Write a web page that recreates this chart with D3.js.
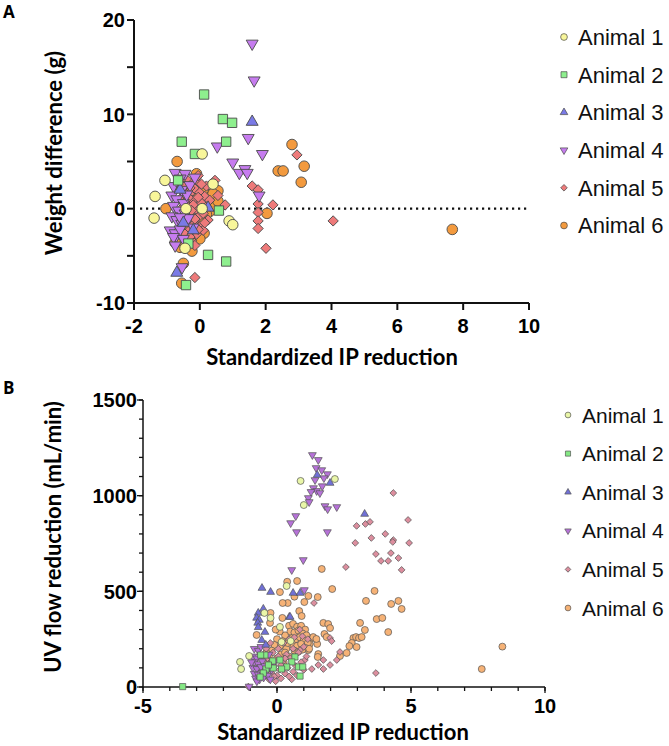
<!DOCTYPE html>
<html>
<head>
<meta charset="utf-8">
<script src="https://cdn.jsdelivr.net/npm/d3@7"></script>
<style>
  body { margin: 0; background: #fff; }
  svg { display: block; }
</style>
</head>
<body>
<div id="chart"></div>
<script>
// ---- data ----
var animalNames = ["Animal 1", "Animal 2", "Animal 3", "Animal 4", "Animal 5", "Animal 6"];

var xTicksA = [-2, 0, 2, 4, 6, 8, 10];
var yTicksA = [-10, 0, 10, 20];
var yMinorA = [-5, 5, 15];
var xTicksB = [-5, 0, 5, 10];
var yTicksB = [0, 500, 1000, 1500];

// panel A: standardized IP reduction vs weight difference (g)
var weightAnimal1 = [[-1.36,1.3],[-1.06,3.0],[-1.39,-1.0],[0.07,5.8],[0.4,2.6],[-0.42,0.0],[0.07,0.0],[0.89,-1.3],[1.0,-1.7],[-0.45,-4.2]];
var weightAnimal2 = [[0.13,12.1],[0.7,9.5],[0.98,9.1],[-0.55,7.1],[0.8,7.1],[-0.15,5.8],[-0.66,3.0],[0.58,-0.2],[-0.35,-3.7],[0.25,-4.9],[0.8,-5.6],[-0.42,-8.1]];
var weightAnimal3 = [[1.59,9.2],[-0.7,-6.8],[0.25,0.1],[-0.2,-2.3],[-0.6,2.0],[-0.5,-1.5]];
var weightAnimal4 = [[1.59,17.5],[1.65,13.6],[1.47,7.5],[0.53,6.6],[1.9,5.8],[1.0,4.9],[1.2,3.8],[1.37,4.2],[1.44,3.8],[1.8,1.4],
  [-0.72,-2.9],[-0.54,-6.2],[-0.75,3.8],[-0.45,3.7],[-0.6,3.2],[-0.8,2.4],[-0.55,2.0],[-0.85,1.4],[-0.7,1.0],[-0.5,0.6],
  [-0.8,0.3],[-0.65,-0.2],[-0.45,-0.5],[-0.85,-0.8],[-0.7,-1.2],[-0.55,-1.6],[-0.9,-2.3],[-0.75,-2.6],[-0.6,-2.2],[-0.8,-3.0],
  [-0.75,-3.9],[-0.5,-3.2],[-0.35,-1.0],[-0.3,2.5],[-0.6,-0.9],[-0.4,1.5],[-0.2,-2.0],[-0.15,3.3]];
var weightAnimal5 = [[2.95,5.7],[4.05,-1.3],[1.59,2.4],[1.77,2.0],[1.77,0.5],[2.22,0.4],[0.77,0.4],[1.77,-0.4],[1.77,-1.3],[1.77,-2.1],
  [2.01,-4.2],[-0.15,-7.3],[0.46,3.0],[0.55,1.4],
  [-0.55,2.8],[-0.4,3.1],[-0.25,2.6],[-0.1,2.9],[-0.5,1.9],[-0.3,1.6],[-0.15,2.1],[0.0,1.7],[0.15,1.3],[-0.6,1.0],
  [-0.45,0.7],[-0.2,0.9],[0.05,0.6],[-0.35,0.2],[-0.1,-0.1],[0.2,0.2],[-0.55,-0.4],[-0.3,-0.6],[-0.05,-0.9],[0.1,-0.5],
  [-0.45,-1.4],[-0.2,-1.5],[0.0,-1.9],[-0.6,-2.0],[-0.35,-2.4],[-0.1,-2.7],[-0.5,-3.0],[-0.25,-3.4],[-0.4,-4.0],[-0.15,-3.9],
  [0.25,-1.2],[0.3,0.9],[-0.65,2.3],[-0.05,3.5],[0.2,2.4],[-0.3,-1.0],[-0.45,-2.7],[-0.2,0.4],[-0.5,0.2],[0.1,-2.3],[0.15,-1.5],
  [-0.35,1.2],[-0.25,-0.2],[-0.05,1.2],[-0.4,-0.9],[-0.15,-1.1],[-0.3,2.2],[-0.05,-2.2],[-0.3,-3.0],[-0.45,2.4],[0.05,2.6]];
var weightAnimal6 = [[2.8,6.8],[2.38,4.0],[2.53,4.0],[3.17,4.5],[3.08,2.8],[2.04,-0.5],[-0.69,5.0],[-1.03,0.0],[-0.08,2.4],[0.55,1.9],
  [0.37,1.2],[0.13,-2.6],[-0.24,-4.5],[-0.5,-5.8],[-0.55,-7.9],[-0.6,-4.1],[-0.1,3.7],[7.67,-2.2],
  [-0.75,-3.6],[0.25,1.5],[0.35,0.9],[0.3,-0.3],[-0.1,1.3],[0.0,-3.2],[-0.2,-2.8],[0.2,-0.6],[0.4,1.6],[-0.5,-1.8],
  [0.45,0.3],[0.1,2.0],[-0.35,2.4],[0.55,0.8],[0.05,-1.4]];

// panel B: standardized IP reduction vs UV flow reduction (mL/min)
var flowAnimal1 = [[0.88,1077],[2.16,1087],[1.0,951],[0.36,528],[-0.47,387],[-0.24,361],[-1.38,131],[-1.34,94],[0.11,314],[0.17,235],[0.51,240],[-1.04,162]];
var flowAnimal2 = [[-3.52,2],[0.86,57],[0.8,105],[0.96,105],[0.67,157],[0.55,131],[0.36,105],[0.17,94],[-0.16,136],[0.11,141],
  [-0.41,94],[-0.51,73],[-0.63,52],[-0.45,167],[-0.61,167],[-0.14,99],[-0.32,115]];
var flowAnimal3 = [[3.27,904],[-0.56,517],[-0.24,496],[0.6,491],[0.86,491],[0.46,366],[1.98,1066],[1.5,1108],
  [-0.7,387],[-0.76,361],[-0.66,350],[-0.51,408],[-0.72,335],[-0.7,312],[-0.45,287],[-0.57,245],[-0.42,220],[0.49,366]];
var flowAnimal4 = [[1.32,1213],[1.54,1187],[1.46,1145],[1.67,1134],[1.88,1113],[1.75,1092],[1.42,1082],[1.69,1050],[1.36,1040],[1.48,1025],
  [1.27,1020],[1.6,1014],[1.17,988],[1.2,967],[1.79,946],[1.89,930],[2.23,941],[0.7,894],[0.51,857],[0.73,810],
  [1.88,810],[0.98,664],[0.55,612],[1.02,507],
  [-0.85,200],[-0.7,190],[-0.9,160],[-0.75,150],[-0.6,165],[-0.85,130],[-0.7,120],[-0.55,135],[-0.9,100],[-0.75,95],
  [-0.6,105],[-0.45,110],[-0.85,70],[-0.7,65],[-0.55,75],[-0.4,80],[-0.8,45],[-0.65,40],[-0.5,50],[-0.35,60],
  [-0.2,90],[-0.1,130],[-0.3,170],[-0.75,30],[-0.95,130],[-0.6,210],[-0.25,40],[-1.04,3]];
var flowAnimal5 = [[4.34,1014],[4.89,873],[4.93,753],[2.97,842],[3.3,852],[3.47,863],[2.92,753],[3.52,779],[4.04,800],[4.34,768],
  [4.32,758],[3.69,695],[3.88,659],[4.15,659],[4.25,700],[4.53,674],[4.65,612],[2.57,627],[1.38,439],[3.69,73],
  [1.3,94],[1.54,115],[1.73,94],[1.73,141],[1.98,115],[1.98,256],[2.04,240],[2.23,141],[2.35,183],[1.04,141],[0.86,193],
  [-0.6,90],[-0.45,60],[-0.3,40],[-0.2,75],[-0.1,110],[0.0,60],[0.1,90],[0.2,130],[0.3,70],[0.4,100],
  [0.5,150],[0.6,80],[0.7,110],[0.8,180],[0.9,130],[1.0,90],[1.1,160],[-0.5,130],[-0.35,150],[-0.15,180],
  [0.05,200],[0.25,230],[0.45,250],[0.65,260],[0.85,300],[1.0,210],[-0.7,40],[-0.05,30],[0.15,45],[0.35,170],
  [-0.4,200],[0.55,40],[1.15,250],[0.95,265],[-0.25,230],[-1.07,2],
  [-0.35,100],[-0.1,55],[0.15,115],[0.3,150],[-0.5,85],[0.05,160],[0.6,200],[0.75,60],[0.45,55],[-0.2,135]];
var flowAnimal6 = [[8.41,211],[7.64,94],[1.67,617],[0.75,554],[2.06,512],[0.11,496],[0.4,439],[1.17,476],[1.52,470],[1.02,444],
  [0.83,397],[0.92,371],[0.2,361],[-0.26,335],[3.64,502],[3.32,450],[4.26,434],[4.53,450],[4.65,408],[3.72,355],
  [3.93,361],[4.15,287],[3.1,335],[3.28,298],[1.73,335],[1.91,329],[1.98,308],[1.77,277],[1.85,261],[1.5,225],
  [1.32,256],[2.85,256],[2.95,261],[3.06,256],[3.16,261],[2.79,230],[2.7,214],[2.97,209],[2.6,178],[2.35,162],
  [1.54,172],[1.52,157],[1.35,261],[1.47,251],[1.22,225],[1.17,193],[-0.76,272],[-0.24,387],[0.21,439],[0.38,550],
  [0.65,472],
  [0.45,320],[0.6,330],[0.75,315],[0.9,320],[1.05,300],[0.5,290],[0.65,285],[0.8,295],[0.95,280],[1.1,270],
  [0.55,255],[0.7,250],[0.85,260],[1.0,245],[1.15,230],[0.6,220],[0.75,215],[0.9,225],[1.05,205],[0.65,190],
  [0.8,185],[0.95,195],[1.2,200],[0.3,270],[0.2,240],[0.1,210],[0.0,250],[-0.1,220],[-0.2,190],[-0.3,160],
  [-0.4,180],[0.15,170],[0.35,200],[0.0,150],[-0.15,130],[0.25,130],[0.45,160],[-0.45,140],[0.1,290],[-0.05,300],
  [0.3,180],[0.4,230]];

var weightSeries = [weightAnimal1, weightAnimal2, weightAnimal3, weightAnimal4, weightAnimal5, weightAnimal6];
var flowSeries = [flowAnimal1, flowAnimal2, flowAnimal3, flowAnimal4, flowAnimal5, flowAnimal6];

var colorsA = ["#f8f69a", "#8eef8e", "#7a7ae6", "#c67cef", "#ee7a7a", "#f39a3e"];
var colorsB = ["#e9f6a8", "#84e884", "#7070d6", "#b672d8", "#dc8e9e", "#f6b276"];

// ---- drawing ----
var svg = d3.select("#chart").append("svg").attr("width", 669).attr("height", 746);

// shape per animal: circle, square, up, down, diamond, circle
function markerPath(i, scale) {
  var s = [1, 1, 0.7, 0.7, 0.6, 1][i] * scale;
  var type = [d3.symbolCircle, d3.symbolSquare, d3.symbolTriangle, d3.symbolTriangle, d3.symbolSquare, d3.symbolCircle][i];
  return d3.symbol().type(type).size(s)();
}
function markerRot(i) {
  return i === 3 ? " rotate(180)" : i === 4 ? " rotate(45)" : "";
}

function drawPanel(cfg) {
  var g = svg.append("g");
  var x = cfg.x, y = cfg.y;

  // axes
  var xAxis = g.append("g").attr("transform", "translate(0," + y.range()[0] + ")");
  xAxis.append("line").attr("x1", x.range()[0] - cfg.axisW / 2).attr("x2", x.range()[1])
    .attr("stroke", "#111").attr("stroke-width", cfg.axisW);
  var yAxis = g.append("g").attr("transform", "translate(" + x.range()[0] + ",0)");
  yAxis.append("line").attr("y1", y.range()[0] + cfg.axisW / 2).attr("y2", y.range()[1])
    .attr("stroke", "#111").attr("stroke-width", cfg.axisW);

  xAxis.selectAll(".minor").data(cfg.xMinor).enter().append("line")
    .attr("x1", d => x(d)).attr("x2", d => x(d)).attr("y1", 0).attr("y2", cfg.minorLen)
    .attr("stroke", "#111").attr("stroke-width", cfg.tickW);
  xAxis.selectAll(".major").data(cfg.xTicks).enter().append("line")
    .attr("x1", d => x(d)).attr("x2", d => x(d)).attr("y1", 0).attr("y2", cfg.majorLen)
    .attr("stroke", "#111").attr("stroke-width", cfg.tickW);
  xAxis.selectAll("text").data(cfg.xTicks).enter().append("text")
    .attr("x", d => x(d)).attr("y", cfg.xLabelY - y.range()[0])
    .attr("text-anchor", "middle")
    .style("font-family", "'Liberation Sans', Arial, sans-serif").style("font-weight", "bold")
    .style("font-size", cfg.tickFont + "px").text(d => d);

  yAxis.selectAll(".minor").data(cfg.yMinor).enter().append("line")
    .attr("y1", d => y(d)).attr("y2", d => y(d)).attr("x1", 0).attr("x2", -cfg.minorLen)
    .attr("stroke", "#111").attr("stroke-width", cfg.tickW);
  yAxis.selectAll(".major").data(cfg.yTicks).enter().append("line")
    .attr("y1", d => y(d)).attr("y2", d => y(d)).attr("x1", 0).attr("x2", -cfg.majorLen)
    .attr("stroke", "#111").attr("stroke-width", cfg.tickW);
  yAxis.selectAll("text").data(cfg.yTicks).enter().append("text")
    .attr("y", d => y(d)).attr("x", -cfg.majorLen - cfg.yPad).attr("dy", "0.36em")
    .attr("text-anchor", "end")
    .style("font-family", "'Liberation Sans', Arial, sans-serif").style("font-weight", "bold")
    .style("font-size", cfg.tickFont + "px").text(d => d);

  if (cfg.zeroLine) {
    g.append("line").attr("x1", x.range()[0] + 6).attr("x2", x.range()[1])
      .attr("y1", y(0)).attr("y2", y(0))
      .attr("stroke", "#111").attr("stroke-width", 2.2).attr("stroke-dasharray", "2.2,3.8");
  }

  // axis titles
  g.append("text").attr("x", cfg.xTitle[0]).attr("y", cfg.xTitle[1]).attr("text-anchor", "middle")
    .style("font-family", "Lato, 'Open Sans', sans-serif").style("font-weight", "bold")
    .style("font-size", "22px").text("Standardized IP reduction");
  g.append("text").attr("transform", "translate(" + cfg.yTitle[0] + "," + cfg.yTitle[1] + ") rotate(-90)")
    .attr("text-anchor", "middle")
    .style("font-family", "Lato, 'Open Sans', sans-serif").style("font-weight", "bold")
    .style("font-size", "22px").text(cfg.yTitleText);
  g.append("text").attr("x", cfg.letter[0]).attr("y", cfg.letter[1])
    .style("font-family", "'Open Sans', sans-serif").style("font-weight", "bold")
    .style("font-size", "17px").text(cfg.letterText);

  // points: last animal at the bottom
  for (var i = cfg.series.length - 1; i >= 0; i--) {
    g.append("g").selectAll("path").data(cfg.series[i]).enter().append("path")
      .attr("d", markerPath(i, cfg.markSize))
      .attr("transform", d => "translate(" + x(d[0]) + "," + y(d[1]) + ")" + markerRot(i))
      .attr("fill", cfg.colors[i]).attr("stroke", cfg.stroke).attr("stroke-width", cfg.markStroke);
  }

  // legend
  var leg = g.append("g");
  animalNames.forEach(function (name, i) {
    var ly = cfg.legY + i * cfg.legStep;
    leg.append("path").attr("d", markerPath(i, cfg.legMark))
      .attr("transform", "translate(" + cfg.legX + "," + ly + ")" + markerRot(i))
      .attr("fill", cfg.colors[i]).attr("stroke", cfg.stroke).attr("stroke-width", 0.7);
    leg.append("text").attr("x", cfg.legX + 14).attr("y", ly).attr("dy", "0.36em")
      .style("font-family", "'Liberation Sans', Arial, sans-serif")
      .style("font-size", cfg.legFont + "px").style("fill", "#111").text(name);
  });
}

drawPanel({
  x: d3.scaleLinear().domain([-2, 10]).range([134, 529]),
  y: d3.scaleLinear().domain([-10, 20]).range([303, 20]),
  xTicks: xTicksA, xMinor: [], yTicks: yTicksA, yMinor: yMinorA,
  axisW: 2, tickW: 2, majorLen: 7, minorLen: 7, yPad: 2,
  tickFont: 20, xLabelY: 333,
  zeroLine: true,
  xTitle: [332, 365], yTitle: [62, 153], yTitleText: "Weight difference (g)",
  letter: [3, 18], letterText: "A",
  series: weightSeries, colors: colorsA, stroke: "#4a4a4a", markStroke: 0.9, markSize: 88,
  legX: 564, legY: 37, legStep: 37.7, legMark: 36, legFont: 22
});

drawPanel({
  x: d3.scaleLinear().domain([-5, 10]).range([143, 545]),
  y: d3.scaleLinear().domain([0, 1500]).range([687, 400]),
  xTicks: xTicksB, xMinor: d3.range(-5, 11), yTicks: yTicksB, yMinor: d3.range(0, 1501, 100),
  axisW: 1.5, tickW: 1.3, majorLen: 6, minorLen: 4, yPad: 0,
  tickFont: 20, xLabelY: 713,
  zeroLine: false,
  xTitle: [343, 740], yTitle: [61, 537], yTitleText: "UV flow reduction (mL/min)",
  letter: [3, 394], letterText: "B",
  series: flowSeries, colors: colorsB, stroke: "#555", markStroke: 0.7, markSize: 38,
  legX: 568, legY: 415, legStep: 38.6, legMark: 26, legFont: 21
});
</script>
</body>
</html>
